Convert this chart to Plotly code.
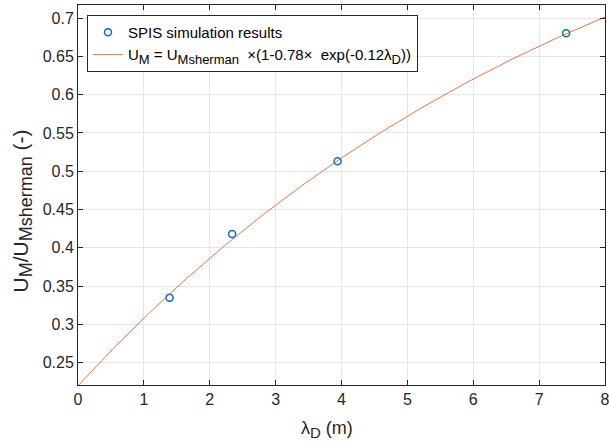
import numpy as np
import plotly.graph_objects as go

# Simulation results
lambda_d = [1.39, 2.34, 3.94, 7.41]
um_ratio = [0.335, 0.418, 0.513, 0.680]

# Fit parameters: U_M/U_Msherman = 1 - a*exp(-b*lambda_D)
fit_a = 0.78
fit_b = 0.12
fit_x = np.linspace(0, 8, 200)
fit_y = 1 - fit_a * np.exp(-fit_b * fit_x)

x_ticks = [0, 1, 2, 3, 4, 5, 6, 7, 8]
y_ticks = [0.25, 0.3, 0.35, 0.4, 0.45, 0.5, 0.55, 0.6, 0.65, 0.7]


def sub(txt, px):
    return '<sub><span style="font-size:%dpx">%s</span></sub>' % (px, txt)


x_title = "\u03bb" + sub("D", 15) + " (m)"
y_title = "U" + sub("M", 18) + "/U" + sub("Msherman", 18) + " (-)"
fit_name = ("U" + sub("M", 13) + " = U" + sub("Msherman", 13)
            + "  \u00d7(1-0.78\u00d7  exp(-0.12\u03bb" + sub("D", 13) + "))")

fig = go.Figure()
fig.add_trace(go.Scatter(
    x=lambda_d, y=um_ratio, mode="markers", name="SPIS simulation results",
    marker=dict(symbol="circle-open", size=7, color="#0072BD", line=dict(width=1.5, color="#0072BD")),
))
fig.add_trace(go.Scatter(
    x=fit_x, y=fit_y, mode="lines", name=fit_name,
    line=dict(color="#D95319", width=0.8),
))

axis_common = dict(
    showline=True, mirror="ticks", linecolor="#262626", linewidth=1,
    ticks="inside", ticklen=5, tickcolor="#262626",
    showgrid=True, gridcolor="#e6e6e6", gridwidth=1,
    zeroline=False, tickfont=dict(size=16, color="#262626"),
    automargin=False, ticklabeloverflow="allow",
)

fig.update_layout(
    width=609, height=444,
    margin=dict(l=78, r=4, t=5, b=59),
    paper_bgcolor="white", plot_bgcolor="white",
    font=dict(family="Liberation Sans, Arial, sans-serif", color="#262626"),
    xaxis=dict(range=[0, 8], tickvals=x_ticks, **axis_common),
    yaxis=dict(range=[0.221, 0.717], tickvals=y_ticks, **axis_common),
    legend=dict(x=0.017, y=0.974, xanchor="left", yanchor="top",
                bgcolor="white", bordercolor="#262626", borderwidth=1,
                font=dict(size=15, color="#000000"), tracegroupgap=0),
    showlegend=True,
    annotations=[
        dict(text=x_title, xref="paper", yref="paper", x=0.473, y=-0.118,
             xanchor="center", yanchor="middle", showarrow=False,
             font=dict(size=18, color="#262626")),
        dict(text=y_title, xref="paper", yref="paper", x=-0.106, y=0.457,
             xanchor="center", yanchor="middle", showarrow=False, textangle=-90,
             font=dict(size=21, color="#262626")),
    ],
)

fig.write_html("out.html", config={"displayModeBar": False},
               post_script="document.body.style.margin='0';document.body.style.overflow='hidden';")
